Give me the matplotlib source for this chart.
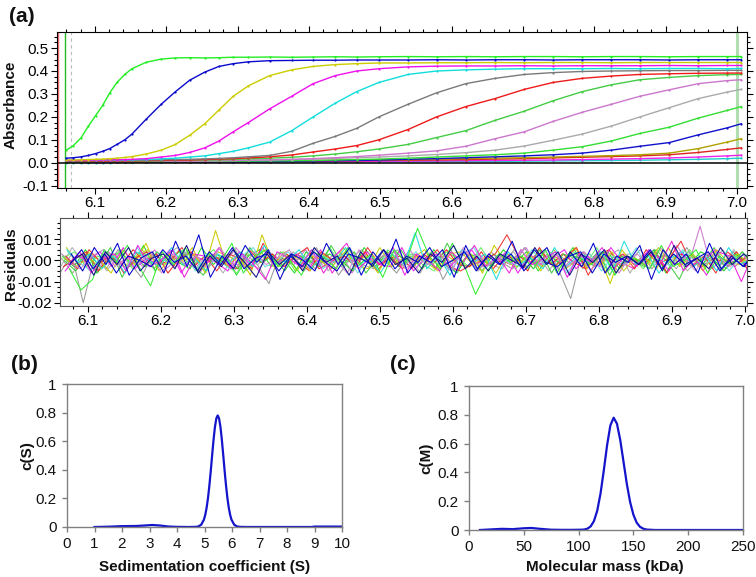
import numpy as np
import matplotlib
matplotlib.use("Agg")
import matplotlib.pyplot as plt
from matplotlib.ticker import MultipleLocator, FormatStrFormatter, FixedLocator

plt.rcParams['font.family'] = ['Liberation Sans', 'DejaVu Sans']
plt.rcParams['axes.unicode_minus'] = False

# ---------------- data: panel (a) absorbance scans ----------------
SCAN_R = [6.060, 6.070, 6.081, 6.091, 6.101, 6.111, 6.121, 6.131, 6.142, 6.152,
          6.172, 6.193, 6.213, 6.233, 6.254, 6.274, 6.294, 6.315, 6.345, 6.376,
          6.406, 6.437, 6.467, 6.498, 6.539, 6.579, 6.620, 6.661, 6.702, 6.742,
          6.783, 6.824, 6.864, 6.905, 6.946, 6.986, 7.006]

scan01 = [0.055, 0.075, 0.11, 0.16, 0.205, 0.25, 0.305, 0.35, 0.385, 0.41, 0.438, 0.452,
          0.457, 0.458, 0.457, 0.458, 0.46, 0.46, 0.461, 0.46, 0.461, 0.462, 0.461, 0.462,
          0.463, 0.462, 0.463, 0.462, 0.463, 0.463, 0.462, 0.463, 0.463, 0.462, 0.463, 0.463, 0.463]
scan02 = [0.02, 0.022, 0.026, 0.032, 0.04, 0.05, 0.062, 0.08, 0.10, 0.125, 0.19, 0.255,
          0.31, 0.36, 0.395, 0.42, 0.432, 0.44, 0.445, 0.446, 0.447, 0.447, 0.448, 0.448,
          0.448, 0.449, 0.448, 0.449, 0.449, 0.448, 0.449, 0.449, 0.449, 0.448, 0.449, 0.449, 0.449]
scan03 = [0.012, 0.012, 0.013, 0.014, 0.015, 0.016, 0.018, 0.02, 0.023, 0.027, 0.038, 0.055,
          0.08, 0.12, 0.17, 0.23, 0.29, 0.335, 0.38, 0.405, 0.42, 0.428, 0.432, 0.435,
          0.435, 0.436, 0.436, 0.437, 0.436, 0.437, 0.437, 0.436, 0.437, 0.437, 0.437, 0.437, 0.437]
scan04 = [0.01, 0.01, 0.011, 0.011, 0.012, 0.012, 0.013, 0.013, 0.014, 0.015, 0.018, 0.025,
          0.032, 0.045, 0.065, 0.095, 0.135, 0.175, 0.235, 0.29, 0.345, 0.38, 0.40, 0.41,
          0.418, 0.421, 0.422, 0.422, 0.423, 0.422, 0.423, 0.423, 0.423, 0.424, 0.423, 0.424, 0.424]
scan05 = [0.01, 0.01, 0.01, 0.011, 0.011, 0.012, 0.012, 0.012, 0.013, 0.013, 0.014, 0.017,
          0.02, 0.025, 0.03, 0.04, 0.05, 0.065, 0.09, 0.14, 0.20, 0.26, 0.31, 0.35,
          0.385, 0.40, 0.405, 0.408, 0.41, 0.41, 0.41, 0.411, 0.41, 0.411, 0.411, 0.41, 0.411]
scan06 = [0.008, 0.008, 0.009, 0.009, 0.009, 0.01, 0.01, 0.01, 0.011, 0.011, 0.012, 0.013,
          0.014, 0.015, 0.017, 0.019, 0.022, 0.026, 0.032, 0.05, 0.085, 0.115, 0.15, 0.20,
          0.255, 0.305, 0.345, 0.368, 0.385, 0.393, 0.398, 0.40, 0.401, 0.402, 0.402, 0.403, 0.403]
scan07 = [0.006, 0.006, 0.006, 0.007, 0.007, 0.007, 0.007, 0.008, 0.008, 0.008, 0.009, 0.01,
          0.011, 0.012, 0.014, 0.016, 0.018, 0.021, 0.026, 0.034, 0.047, 0.06, 0.075, 0.10,
          0.145, 0.20, 0.245, 0.28, 0.32, 0.35, 0.368, 0.378, 0.385, 0.388, 0.39, 0.391, 0.391]
scan08 = [0.005, 0.005, 0.005, 0.005, 0.006, 0.006, 0.006, 0.006, 0.006, 0.007, 0.007, 0.009,
          0.01, 0.011, 0.012, 0.013, 0.015, 0.017, 0.02, 0.024, 0.03, 0.038, 0.048, 0.06,
          0.08, 0.11, 0.14, 0.185, 0.225, 0.27, 0.31, 0.34, 0.362, 0.372, 0.38, 0.384, 0.385]
scan09 = [0.004, 0.004, 0.004, 0.004, 0.004, 0.005, 0.005, 0.005, 0.005, 0.005, 0.005, 0.006,
          0.006, 0.007, 0.008, 0.009, 0.01, 0.011, 0.013, 0.015, 0.018, 0.022, 0.027, 0.033,
          0.042, 0.052, 0.072, 0.105, 0.135, 0.18, 0.22, 0.255, 0.29, 0.318, 0.345, 0.358, 0.362]
scan10 = [0.004, 0.004, 0.004, 0.005, 0.005, 0.005, 0.005, 0.005, 0.006, 0.006, 0.006, 0.007,
          0.007, 0.008, 0.008, 0.009, 0.01, 0.011, 0.012, 0.014, 0.016, 0.019, 0.022, 0.025,
          0.03, 0.036, 0.044, 0.055, 0.073, 0.098, 0.125, 0.16, 0.2, 0.24, 0.28, 0.308, 0.32]
scan11 = [0.003, 0.003, 0.003, 0.003, 0.003, 0.004, 0.004, 0.004, 0.004, 0.004, 0.004, 0.005,
          0.005, 0.005, 0.006, 0.006, 0.007, 0.007, 0.008, 0.009, 0.01, 0.012, 0.014, 0.016,
          0.02, 0.025, 0.03, 0.035, 0.042, 0.055, 0.07, 0.095, 0.128, 0.155, 0.195, 0.228, 0.245]
scan12 = [0.002, 0.002, 0.002, 0.002, 0.002, 0.003, 0.003, 0.003, 0.003, 0.003, 0.003, 0.004,
          0.004, 0.004, 0.004, 0.005, 0.005, 0.005, 0.006, 0.007, 0.008, 0.009, 0.01, 0.012,
          0.015, 0.018, 0.022, 0.026, 0.03, 0.035, 0.042, 0.055, 0.072, 0.088, 0.122, 0.152, 0.17]
scan13 = [0.004, 0.004, 0.004, 0.004, 0.004, 0.004, 0.005, 0.005, 0.005, 0.005, 0.005, 0.006,
          0.006, 0.006, 0.007, 0.007, 0.007, 0.008, 0.008, 0.009, 0.01, 0.011, 0.012, 0.013,
          0.014, 0.016, 0.018, 0.02, 0.022, 0.025, 0.028, 0.031, 0.035, 0.042, 0.062, 0.09, 0.105]
scan14 = [0.003, 0.003, 0.003, 0.003, 0.003, 0.003, 0.003, 0.004, 0.004, 0.004, 0.004, 0.004,
          0.005, 0.005, 0.005, 0.005, 0.006, 0.006, 0.006, 0.007, 0.007, 0.008, 0.009, 0.01,
          0.011, 0.012, 0.014, 0.016, 0.018, 0.021, 0.024, 0.027, 0.03, 0.035, 0.045, 0.058, 0.065]
scan15 = [0.002, 0.002, 0.002, 0.002, 0.002, 0.002, 0.002, 0.003, 0.003, 0.003, 0.003, 0.003,
          0.003, 0.003, 0.004, 0.004, 0.004, 0.004, 0.005, 0.005, 0.005, 0.006, 0.006, 0.007,
          0.007, 0.008, 0.009, 0.01, 0.011, 0.012, 0.014, 0.016, 0.018, 0.021, 0.025, 0.03, 0.033]
scan16 = [0.001, 0.001, 0.001, 0.001, 0.001, 0.001, 0.001, 0.002, 0.002, 0.002, 0.002, 0.002,
          0.002, 0.002, 0.002, 0.003, 0.003, 0.003, 0.003, 0.003, 0.004, 0.004, 0.004, 0.005,
          0.005, 0.005, 0.006, 0.006, 0.007, 0.008, 0.009, 0.01, 0.011, 0.013, 0.015, 0.018, 0.02]

SCANS = [scan16, scan15, scan14, scan13, scan12, scan11, scan10, scan09, scan08,
         scan07, scan06, scan05, scan04, scan03, scan02, scan01]
SCAN_COLORS = ['#22cccc', '#ee22ee', '#dd2222', '#b0a000', '#1111cc', '#33dd33',
               '#aaaaaa', '#cc77cc', '#44cc44', '#ee1a1a', '#7a7a7a', '#11dddd',
               '#ee11ee', '#cccc00', '#0a0acc', '#22ee22']

# ---------------- data: residuals (units of 0.001) ----------------
RES_R = np.linspace(6.062, 7.0, 60)
res01 = [3, -5, 6, -2, 8, -7, 1, 4, -6, 9, -3, 12, -8, 2, -4, 7, -1, 5, -9, 3,
         0, -5, 8, -2, 6, -7, 4, -3, 10, -6, 2, -1, 5, -8, 7, -4, 3, -2, 9, -5,
         1, 6, -7, 4, -3, 8, -6, 2, -1, 7, -9, 5, -2, 3, -6, 8, -4, 1, -3, 5]
res02 = [-4, -14, -9, 5, -1, 7, -3, -12, 4, -2, 6, -5, 3, -1, 8, -6, 2, 5, -3, 0,
         -7, 4, 1, -4, 6, -2, 3, -8, 5, -1, 15, 2, -4, 8, -2, -16, -5, 3, -1, 2,
         -4, 5, -6, 3, 1, -2, 4, -7, 2, 0, -4, 7, -3, 0, 5, -6, 2, -2, 4, -3]
res03 = [1, -3, 4, 0, -6, 5, -2, 8, -4, 3, -1, 6, -5, 14, -3, 2, -7, 12, -2, 4,
         -5, 3, 0, -4, 6, -1, 2, -6, 4, -3, 1, 5, -4, 2, -2, 3, -6, 7, -1, -3,
         4, -5, 2, 0, 6, -4, 3, -11, 5, -2, 1, -4, 6, -3, 2, -5, 4, -1, 3, -2]
res04 = [-2, 4, -6, 1, 3, -5, 7, -3, 0, 5, -8, 2, -1, 6, -4, 3, -2, -9, 4, 1,
         -3, 5, -6, 2, 8, -4, 1, -2, 6, -7, 3, 0, -5, 4, -1, 7, -3, 2, -6, 5,
         -2, 1, 4, -8, 3, -1, 6, -4, 2, -3, 5, -2, 9, -5, 1, -7, 4, 2, -10, 3]
res05 = [5, -1, 3, -4, 2, -6, 4, 0, -3, 6, -2, 1, -5, 3, -1, 4, -3, 7, -2, 0,
         5, -4, 2, -1, 6, -3, 1, -6, 3, -2, 13, -4, 2, -7, 5, -1, 3, -9, 4, -2,
         1, -4, 6, -3, 2, -1, 4, -5, 9, -2, 3, -6, 1, 4, -3, 2, -5, 6, -2, 1]
res06 = [-6, 3, -20, 2, -4, 5, -1, -8, 3, 0, -3, 4, -6, 2, 1, -5, 3, -2, -11, 4,
         -1, 2, -4, 3, -7, 1, 5, -3, 0, -6, 2, -2, 4, -9, 1, 3, -5, 2, -1, -4,
         6, -2, 3, -5, -18, 4, -3, 0, 2, -1, 5, -4, 3, -2, 6, -3, 1, -5, 4, -2]
res07 = [2, -4, 5, -1, 3, -6, 1, 4, -2, 0, 6, -3, 2, -5, 3, 1, -4, 8, -2, 3,
         -1, -5, 4, 0, 2, -3, 6, -2, 1, -4, 3, -1, 5, -3, -5, -2, 0, 3, 12, 2,
         -1, 4, -3, 1, 6, -7, 2, -1, 3, -4, 5, -2, 1, 9, -3, 2, -6, 4, -1, 3]
res08 = [0, -5, 3, -2, 6, -8, 2, -3, 4, -1, 5, -2, -7, 3, 1, -4, 6, -1, 2, -5,
         3, 0, -3, 7, -2, 4, -6, 1, -1, 5, -3, 2, -4, 8, -2, 3, -5, 3, -1, 2,
         -4, 5, -6, 3, 1, -2, 4, -7, 2, 0, -3, 5, -1, -9, 3, -2, 6, -4, 1, -2]
res09 = [3, -2, 1, -6, 4, -1, 2, -3, 5, -4, 1, 3, -5, 2, -2, 6, -1, -4, 3, 0,
         -2, 5, -3, 1, 4, -6, 2, -1, 3, -2, 5, -4, 0, 2, -5, 3, -1, 4, -2, 1,
         6, -3, 2, -5, 1, 4, -2, 3, -6, 2, -1, 5, -3, 7, -2, 16, -4, 1, -3, 2]
res10 = [-3, 6, -1, 2, -5, 3, -2, 4, -4, 1, -1, 5, -3, 2, -6, 3, 0, -2, 4, -1,
         3, -5, 2, -3, 1, 5, -2, -4, 3, -1, 2, -6, 4, -2, 1, 3, -5, 2, -1, 4,
         -3, 0, 5, -2, 3, -4, 1, -6, 2, 3, -1, 4, -3, 2, -5, 1, 3, -2, 5, -3]
res11 = [1, 4, -3, 2, -1, 5, -4, 3, 0, -2, 4, -3, 1, 5, -2, -6, 3, -1, 2, 4,
         -5, 1, -2, 6, -3, 2, 0, -4, 5, -1, 3, -2, -5, 4, 1, -3, 6, -2, 3, -4,
         2, 5, -1, -3, 4, -2, 6, -5, 1, 2, -4, 3, 0, -2, 5, -3, 4, -1, 2, -4]
res12 = [-1, 3, -7, 4, -2, 6, -5, 1, 3, -4, 7, -6, 2, -3, 5, -1, -8, 4, -2, 3,
         -5, 6, -1, 2, -7, 4, -3, 5, -2, 1, -6, 3, -1, 7, -4, 2, -5, 3, 0, -3,
         6, -2, 4, -7, 3, -1, 5, -6, 2, -2, 4, -5, 7, -3, 1, -4, 6, -2, 3, -1]
res13 = [2, -3, 5, -6, 1, 4, -2, 7, -5, 3, -1, -4, 6, -2, 3, -7, 2, 5, -3, 1,
         -6, 4, -2, 3, 0, -5, 6, -1, 4, -3, 2, -4, 5, -2, -6, 3, 1, -3, 5, -1,
         4, -5, 2, -2, 6, -3, 0, 4, -4, 2, -1, 5, -6, 3, -2, 4, 1, -5, 3, -1]
res14 = [-5, 2, 0, 4, -3, 6, -4, 1, -2, 5, -6, 3, 2, -1, -5, 4, -3, 6, -2, 1,
         3, -4, 5, -6, 2, -1, 4, -2, -3, 6, -5, 1, 3, -4, 2, 5, -3, -1, 4, -6,
         3, -2, 1, 5, -4, 2, -3, 6, -1, -4, 3, 2, -5, 4, -2, 0, 5, -3, 1, -4]
res15 = [4, -1, -5, 3, 2, -4, 6, -3, 1, -2, 5, -5, 3, 0, -4, 2, 6, -3, -1, 4,
         -2, 5, -4, 1, 3, -6, 2, -1, 5, -3, 4, -2, 1, -5, 3, 6, -4, 2, -1, -3,
         5, -2, 4, -6, 1, 3, -5, 2, -2, 6, -4, 1, -3, 5, 0, -2, 4, -5, 2, 3]
res16 = [-2, 5, -4, 3, -6, 2, 0, -3, 5, -1, 2, -5, 4, -2, 6, -4, 1, 3, -5, 2,
         -3, 4, -1, -5, 3, 1, -2, 5, -4, 2, -1, 6, -3, 0, 4, -5, 2, -2, 3, -4,
         5, -1, -3, 2, 4, -6, 3, -1, 2, -2, 5, -4, 3, -2, 1, 4, -5, 2, -3, 4]
res17 = [1, -6, 3, -2, 4, -1, -3, 5, -4, 2, 6, -2, -4, 3, -1, 5, -5, 2, 1, -3,
         4, -2, 6, -5, 1, -1, 3, -4, 2, 5, -3, 1, -2, 4, -6, 2, 3, -2, -4, 5,
         -1, 3, -5, 2, -2, 4, -3, 1, 5, -6, 2, -1, 3, -4, 4, -2, -1, 5, -3, 2]
res18 = [-3, 1, 4, -5, 2, -2, 5, -1, 3, -6, 1, 4, -3, 2, -2, -4, 5, -1, 3, -3,
         2, 6, -4, -1, 3, -2, 4, -5, 1, 2, -4, 3, -1, 5, -2, -3, 4, -4, 2, 1,
         -5, 6, -2, 3, -1, -4, 2, 5, -3, 1, -2, 4, -6, 3, 2, -3, 1, -1, 4, -5]
res19 = [6, -2, 1, -4, 3, -3, 2, 5, -5, 1, -1, 3, -6, 4, 2, -2, -3, 5, -4, 2,
         1, -5, 3, -1, 4, -2, -4, 6, -3, 1, 2, -1, -5, 3, 4, -2, 1, -6, 3, -1,
         2, -3, 5, -4, 0, 3, -2, 4, -5, 1, -3, 6, -1, -2, 3, -4, 5, -1, -2, 3]
res20 = [-1, -4, 2, 5, -3, 1, -2, 4, -6, 3, -2, 2, -4, 6, -1, -3, 4, -2, 1, 5,
         -4, 3, -3, 0, -6, 5, -2, 2, 4, -4, 1, -2, 3, -5, 6, -1, -3, 2, -2, 5,
         -4, 1, 3, -3, 2, -5, 4, -1, -2, 3, -4, 6, -2, 1, -5, 3, 2, -3, 4, -6]
RESIDUALS = [res06, res10, res17, res09, res13, res11, res18, res08, res03, res14,
             res07, res19, res05, res15, res04, res20, res02, res16, res12, res01]
RES_COLORS = ['#999999', '#b0b0b0', '#aaaaaa', '#cc77cc', '#22dd22', '#66ee66',
              '#ee2222', '#44cc44', '#cccc00', '#ee22ee', '#ee3333', '#cccc22',
              '#22dddd', '#66dddd', '#ee22dd', '#cc88cc', '#33ee33', '#0000cc',
              '#10108a', '#0000cc']

# ---------------- data: panel (b) c(S) ----------------
S_VAL = [1.0, 1.5, 2.0, 2.5, 2.8, 3.1, 3.4, 3.7, 4.0, 4.4, 4.68, 4.78, 4.88, 4.98, 5.03,
         5.08, 5.13, 5.18, 5.23, 5.28, 5.33, 5.38, 5.43, 5.48, 5.53, 5.58, 5.63, 5.68,
         5.73, 5.78, 5.83, 5.88, 5.93, 5.98, 6.08, 6.18, 6.28, 6.5, 7.0, 8.0, 8.9, 9.0, 10.0]
CS_VAL = [0.0, 0.002, 0.006, 0.007, 0.01, 0.014, 0.01, 0.003, 0.001, 0.0, 0.001, 0.004,
          0.016, 0.052, 0.087, 0.138, 0.207, 0.295, 0.397, 0.506, 0.612, 0.70, 0.759, 0.78,
          0.759, 0.70, 0.612, 0.506, 0.397, 0.295, 0.207, 0.138, 0.087, 0.052, 0.016, 0.004,
          0.001, 0.0, 0.0, 0.0, 0.0, 0.003, 0.003]

# ---------------- data: panel (c) c(M) ----------------
M_VAL = [10, 20, 30, 40, 50, 57, 65, 75, 85, 95, 102, 105, 108, 111, 114, 117, 120, 123,
         126, 129, 132, 135, 138, 141, 144, 147, 150, 153, 156, 159, 162, 170, 190, 220, 250]
CM_VAL = [0.0, 0.004, 0.008, 0.006, 0.012, 0.014, 0.008, 0.002, 0.001, 0.001, 0.002, 0.003,
          0.009, 0.025, 0.062, 0.134, 0.253, 0.414, 0.589, 0.727, 0.78, 0.738, 0.625, 0.473,
          0.32, 0.194, 0.106, 0.051, 0.022, 0.009, 0.003, 0.0, 0.0, 0.0, 0.0]

# ---------------- figure ----------------
W, H = 756, 577
fig = plt.figure(figsize=(W / 100, H / 100), dpi=100)


def box(l, t, r, b):
    return [l / W, 1 - b / H, (r - l) / W, (b - t) / H]


TICK_FS = 11
LABEL_FS = 11

# panel (a) top
axA = fig.add_axes(box(57, 32, 747, 188))
axA.set_xlim(6.047, 7.014)
axA.set_ylim(-0.11, 0.57)
axA.axvline(6.047, color='#ee3333', lw=2.5, alpha=0.7)
axA.axvline(6.058, color='#22bb22', lw=1.0)
axA.axvline(6.066, color='#bbbbbb', lw=0.8, ls=(0, (3, 3)))
axA.axvline(7.0, color='#8fd08f', lw=2.2, alpha=0.7)
for vals, col in zip(SCANS, SCAN_COLORS):
    axA.plot(SCAN_R, vals, color=col, lw=1.0, marker='o', ms=1.6, mew=0, zorder=3)
axA.axhline(0.0, color='black', lw=1.1, zorder=4)
axA.xaxis.set_major_locator(MultipleLocator(0.1))
axA.xaxis.set_minor_locator(MultipleLocator(0.02))
axA.xaxis.set_major_formatter(FormatStrFormatter('%.1f'))
axA.yaxis.set_major_locator(MultipleLocator(0.1))
axA.yaxis.set_minor_locator(MultipleLocator(0.025))
axA.yaxis.set_major_formatter(FormatStrFormatter('%.1f'))
axA.tick_params(which='both', direction='out', top=True, right=True,
                labelsize=TICK_FS, pad=2, width=0.8)
axA.tick_params(which='major', length=4)
axA.tick_params(which='minor', length=2.5)

# residuals
axR = fig.add_axes(box(60, 218, 747, 306))
axR.set_xlim(6.062, 7.003)
axR.set_ylim(-0.0215, 0.0199)
for i, (vals, col) in enumerate(zip(RESIDUALS, RES_COLORS)):
    axR.plot(RES_R + i * 0.0008, np.array(vals) * 0.001, color=col, lw=0.75)
axR.xaxis.set_major_locator(MultipleLocator(0.1))
axR.xaxis.set_minor_locator(MultipleLocator(0.02))
axR.xaxis.set_major_formatter(FormatStrFormatter('%.1f'))
axR.yaxis.set_major_locator(MultipleLocator(0.01))
axR.yaxis.set_minor_locator(MultipleLocator(0.0025))
axR.yaxis.set_major_formatter(FormatStrFormatter('%.2f'))
axR.tick_params(which='both', direction='out', top=True, right=True,
                labelsize=TICK_FS, pad=2, width=0.8)
axR.tick_params(which='major', length=4)
axR.tick_params(which='minor', length=2.5)
for sp in axR.spines.values():
    sp.set_color('#555555')

# panel (b)
GREY = '#808080'
axB = fig.add_axes(box(67, 384, 342, 527))
axB.plot(S_VAL, CS_VAL, color='#1414cc', lw=1.6)
axB.set_xlim(0, 10)
axB.set_ylim(0, 1)
axB.xaxis.set_major_locator(MultipleLocator(1))
axB.yaxis.set_major_locator(FixedLocator([0, 0.2, 0.4, 0.6, 0.8, 1.0]))
axB.set_yticklabels(['0', '0.2', '0.4', '0.6', '0.8', '1'])

# panel (c)
axC = fig.add_axes(box(469, 386, 743, 530))
axC.plot(M_VAL, CM_VAL, color='#1414cc', lw=1.6)
axC.set_xlim(0, 250)
axC.set_ylim(0, 1)
axC.xaxis.set_major_locator(MultipleLocator(50))
axC.yaxis.set_major_locator(FixedLocator([0, 0.2, 0.4, 0.6, 0.8, 1.0]))
axC.set_yticklabels(['0', '0.2', '0.4', '0.6', '0.8', '1'])

for ax in (axB, axC):
    for sp in ax.spines.values():
        sp.set_color(GREY)
        sp.set_linewidth(1.0)
    ax.tick_params(direction='out', length=3.5, width=1.0, color=GREY,
                   labelsize=TICK_FS, labelcolor='#111111', pad=4)

# text labels
bold = dict(fontweight='bold', fontsize=LABEL_FS, color='#111111')
fig.text(11 / W, 1 - 105 / H, 'Absorbance', rotation=90, ha='center', va='center', **bold)
fig.text(11 / W, 1 - 264 / H, 'Residuals', rotation=90, ha='center', va='center', **bold)
fig.text(27 / W, 1 - 456 / H, 'c(S)', rotation=90, ha='center', va='center', **bold)
fig.text(426 / W, 1 - 458 / H, 'c(M)', rotation=90, ha='center', va='center', **bold)
fig.text(205 / W, 1 - 567 / H, 'Sedimentation coefficient (S)', ha='center', va='center', **bold)
fig.text(605 / W, 1 - 567 / H, 'Molecular mass (kDa)', ha='center', va='center', **bold)

panel = dict(fontweight='bold', fontsize=15, color='#111111', ha='center', va='center')
fig.text(22 / W, 1 - 16 / H, '(a)', **panel)
fig.text(24 / W, 1 - 364 / H, '(b)', **panel)
fig.text(403 / W, 1 - 364 / H, '(c)', **panel)

fig.savefig('out.png', dpi=100)
